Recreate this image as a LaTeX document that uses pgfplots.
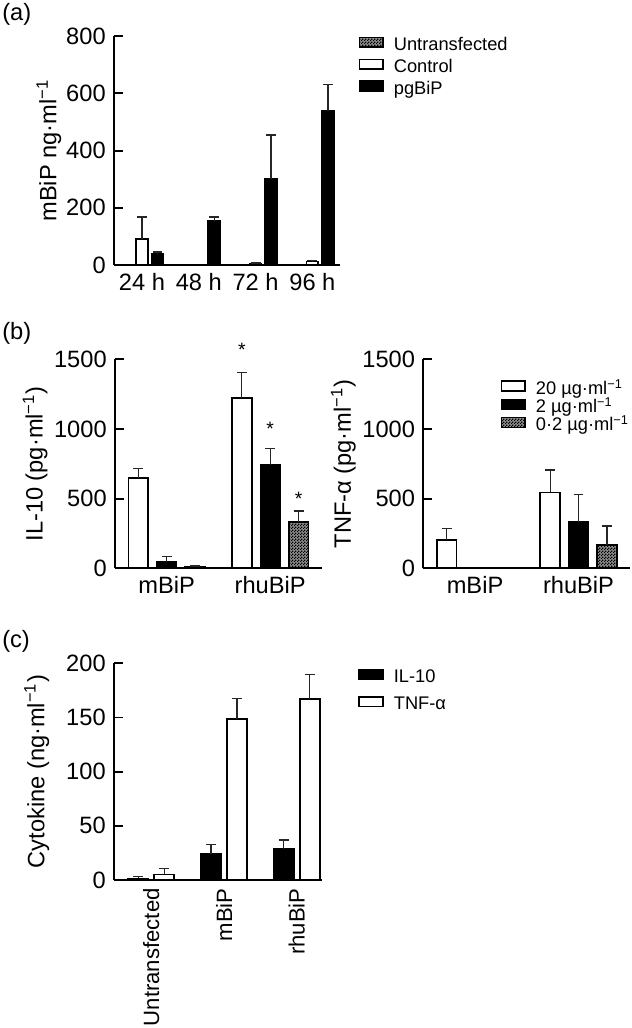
\documentclass[border=0pt]{standalone}
\usepackage{fontspec}
\setmainfont{Liberation Sans}
\usepackage{pgfplots}
\pgfplotsset{compat=1.18}
\usetikzlibrary{patterns}

% fine dark checker used for the third series
\pgfdeclarepatternformonly{finecheck}{\pgfpointorigin}{\pgfpoint{1.4pt}{1.4pt}}{\pgfpoint{1.4pt}{1.4pt}}{%
  \pgfpathrectangle{\pgfpointorigin}{\pgfpoint{0.7pt}{0.7pt}}%
  \pgfpathrectangle{\pgfpoint{0.7pt}{0.7pt}}{\pgfpoint{0.7pt}{0.7pt}}%
  \pgfusepath{fill}}

\pgfplotsset{
  panel/.style={
    scale only axis, ybar, clip=false, enlargelimits=false, ymin=0,
    axis lines=left, axis line style={-, line width=0.9pt},
    tick align=inside, major tick length=0.15cm,
    ytick style={line width=0.9pt, black},
    xtick style={draw=none},
    /pgf/number format/assume math mode=true,
    /pgf/number format/set thousands separator={},
    legend image code/.code={\draw[##1, line width=0.8pt] (0cm,-0.08cm) rectangle (0.39cm,0.08cm);},
    legend cell align=left,
    legend style={draw=none, fill=none, font=\fontsize{8.5}{10}\selectfont, inner sep=0pt, column sep=0.16cm,
      nodes={inner sep=0pt, text height=1.6ex, text depth=0.3ex}},
  },
  eb/.style={error bars/.cd, y dir=plus, y explicit,
    error bar style={line width=0.6pt, black!85},
    error mark options={rotate=90, line width=0.6pt, black!85, mark size=2.3pt}},
  white bar/.style={draw=black, fill=white, line width=0.8pt},
  black bar/.style={draw=black, fill=black, line width=0.8pt},
  check bar/.style={draw=black, fill=black!45, line width=0.8pt, postaction={pattern=finecheck}},
}

\begin{document}
\fontsize{11}{13.2}\selectfont
\begin{tikzpicture}
\useasboundingbox (0,0) rectangle (10.333,-16.808);
\node[anchor=west, inner sep=0pt] at (0.03,-0.23) {(a)};
\node[anchor=west, inner sep=0pt] at (0.03,-5.45) {(b)};
\node[anchor=west, inner sep=0pt] at (0.03,-10.49) {(c)};

% (a)
\begin{axis}[panel, at={(1.864cm,-4.333cm)}, anchor=south west,
  width=3.695cm, height=3.744cm,
  xmin=-0.493, xmax=3.486, ymax=800, ytick={0,200,400,600,800},
  bar width=0.21,
  xtick={0,1,2,3}, xticklabels={24 h,48 h,72 h,96 h},
  ylabel={mBiP ng·ml\textsuperscript{−1}},
  ylabel style={at={(axis description cs:-0.288,0.5)}, anchor=center},
  legend style={at={(axis description cs:1.08,1.026)}, anchor=north west, row sep=-0.03cm}]
\addplot[check bar, bar shift=-0.273] coordinates {(0,0) (1,0) (2,0) (3,0)};
\addplot[white bar, bar shift=0, eb] coordinates {
  (0,91) +- (0,77)
  (2,5) +- (0,2)
  (3,12) +- (0,4)};
\addplot[black bar, bar shift=0.273, eb] coordinates {
  (0,38) +- (0,7)
  (1,153) +- (0,15)
  (2,302) +- (0,152)
  (3,538) +- (0,93)};
\legend{Untransfected, Control, pgBiP}
\end{axis}

% (b) IL-10
\begin{axis}[panel, at={(1.880cm,-9.292cm)}, anchor=south west,
  width=3.384cm, height=3.417cm,
  xmin=-0.5, xmax=1.5, ymax=1500, ytick={0,500,1000,1500},
  bar width=0.19,
  xtick={0,1}, xticklabels={mBiP,rhuBiP},
  ylabel={IL-10 (pg·ml\textsuperscript{−1})},
  ylabel style={at={(axis description cs:-0.386,0.5)}, anchor=center}]
\addplot[white bar, bar shift=-0.274, eb] coordinates {
  (0,646) +- (0,72)
  (1,1220) +- (0,184)};
\addplot[black bar, bar shift=0, eb] coordinates {
  (0,48) +- (0,36)
  (1,742) +- (0,119)};
\addplot[check bar, bar shift=0.274, eb] coordinates {
  (0,8) +- (0,8)
  (1,335) +- (0,76)};
\node[font=\small, yshift=-0.22em] at (axis cs:0.726,1608) {*};
\node[font=\small, yshift=-0.22em] at (axis cs:1,1040) {*};
\node[font=\small, yshift=-0.22em] at (axis cs:1.274,538) {*};
\end{axis}

% (b) TNF-alpha
\begin{axis}[panel, at={(6.921cm,-9.292cm)}, anchor=south west,
  width=3.384cm, height=3.417cm,
  xmin=-0.5, xmax=1.5, ymax=1500, ytick={0,500,1000,1500},
  bar width=0.19,
  xtick={0,1}, xticklabels={mBiP,rhuBiP},
  ylabel={TNF-α (pg·ml\textsuperscript{−1})},
  ylabel style={at={(axis description cs:-0.386,0.5)}, anchor=center},
  legend style={at={(axis description cs:0.371,0.931)}, anchor=north west, row sep=-0.09cm}]
\addplot[white bar, bar shift=-0.274, eb] coordinates {
  (0,203) +- (0,84)
  (1,545) +- (0,161)};
\addplot[black bar, bar shift=0, eb] coordinates {
  (1,333) +- (0,198)};
\addplot[check bar, bar shift=0.274, eb] coordinates {
  (1,168) +- (0,136)};
\legend{20 µg·ml\textsuperscript{−1}, 2 µg·ml\textsuperscript{−1}, 0·2 µg·ml\textsuperscript{−1}}
\end{axis}

% (c)
\begin{axis}[panel, at={(1.864cm,-14.388cm)}, anchor=south west,
  width=3.396cm, height=3.543cm,
  xmin=-0.513, xmax=2.344, ymax=200, ytick={0,50,100,150,200},
  bar width=0.275,
  xtick={0,1,2}, xticklabels={Untransfected,mBiP,rhuBiP},
  xticklabel style={rotate=90, anchor=east, font=\fontsize{10.3}{12}\selectfont},
  ylabel={Cytokine (ng·ml\textsuperscript{−1})},
  ylabel style={at={(axis description cs:-0.372,0.5)}, anchor=center},
  legend style={at={(axis description cs:1.175,1.004)}, anchor=north west, row sep=0.05cm}]
\addplot[black bar, bar shift=-0.179, eb] coordinates {
  (0,1.5) +- (0,2)
  (1,23.7) +- (0,9.2)
  (2,28.3) +- (0,8.6)};
\addplot[white bar, bar shift=0.179, eb] coordinates {
  (0,5.2) +- (0,5.6)
  (1,148.3) +- (0,19.4)
  (2,167) +- (0,22.8)};
\legend{IL-10, TNF-α}
\end{axis}
\end{tikzpicture}
\end{document}
